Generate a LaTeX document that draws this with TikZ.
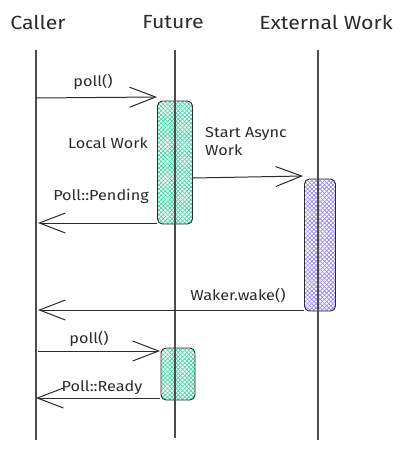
\documentclass[tikz,border=0pt]{standalone}
\usepackage{fontspec}
\setmainfont{Fira Sans}[FakeStretch=1.12]
\usetikzlibrary{arrows.meta,patterns.meta}
\definecolor{mint}{HTML}{3CD6A0}
\definecolor{lav}{HTML}{9A88F2}
\definecolor{ink}{HTML}{2B2B2B}
\begin{document}
\begin{tikzpicture}[x=1pt,y=-1pt,
  header/.style={font=\fontsize{19}{22}\selectfont, text=ink},
  lbl/.style={font=\fontsize{14.5}{18}\selectfont, text=ink, inner sep=1pt},
  life/.style={draw=ink!85, line width=1.1pt},
  msg/.style={draw=ink, line width=1pt, -{Straight Barb[length=26pt,width=20pt,line width=1pt]}},
  actbox/.style={draw=ink, rounded corners=5pt, line width=0.9pt, inner sep=0pt,
    preaction={pattern={Lines[angle=45,distance=3pt,line width=0.7pt]}, pattern color=#1},
    preaction={pattern={Lines[angle=-45,distance=3pt,line width=0.7pt]}, pattern color=#1}}
]
\useasboundingbox (0,0) rectangle (405,450);
\fill[white] (0,0) rectangle (405,450);

% headers
\node[header] (hcaller) at (38,22) {Caller};
\node[header] (hfuture) at (173,22) {Future};
\node[header] (hext) at (326,22) {External Work};

% activation boxes
\node[actbox=mint, minimum width=35pt, minimum height=123pt] (fa) at (175,162.5) {};
\node[actbox=lav, minimum width=31pt, minimum height=132pt] (ea) at (320,245) {};
\node[actbox=mint, minimum width=34pt, minimum height=52pt] (fb) at (178,374) {};

% lifelines
\coordinate (c0) at (36,50); \coordinate (c1) at (36,440);
\coordinate (f0) at (175,50); \coordinate (f1) at (175,438);
\coordinate (e0) at (318,50); \coordinate (e1) at (318,440);
\draw[life] (c0) -- (c1);
\draw[life] (f0) -- (f1);
\draw[life] (e0) -- (e1);

% message points
\coordinate (p1s) at (36,98);  \coordinate (p1e) at (157,97);
\coordinate (s1s) at (193,178); \coordinate (s1e) at (303,176);
\coordinate (pps) at (157,223); \coordinate (ppe) at (38,223);
\coordinate (ws) at (304,310);  \coordinate (we) at (38,310);
\coordinate (p2s) at (38,351);  \coordinate (p2e) at (160,351);
\coordinate (prs) at (160,398); \coordinate (pre) at (36,398);

\draw[msg] (p1s) -- (p1e);
\draw[msg] (s1s) -- (s1e);
\draw[msg] (pps) -- (ppe);
\draw[msg] (ws) -- (we);
\draw[msg] (p2s) -- (p2e);
\draw[msg] (prs) -- (pre);

% labels
\node[lbl] (l1) at (93,82) {poll()};
\node[lbl] (l2) at (108,143) {Local Work};
\node[lbl, align=left, anchor=north west] (l3) at (204,126) {Start Async\\Work};
\node[lbl] (l4) at (101,196) {Poll::Pending};
\node[lbl] (l5) at (238,295) {Waker.wake()};
\node[lbl] (l6) at (89,339) {poll()};
\node[lbl] (l7) at (102,388) {Poll::Ready};
\end{tikzpicture}
\end{document}
